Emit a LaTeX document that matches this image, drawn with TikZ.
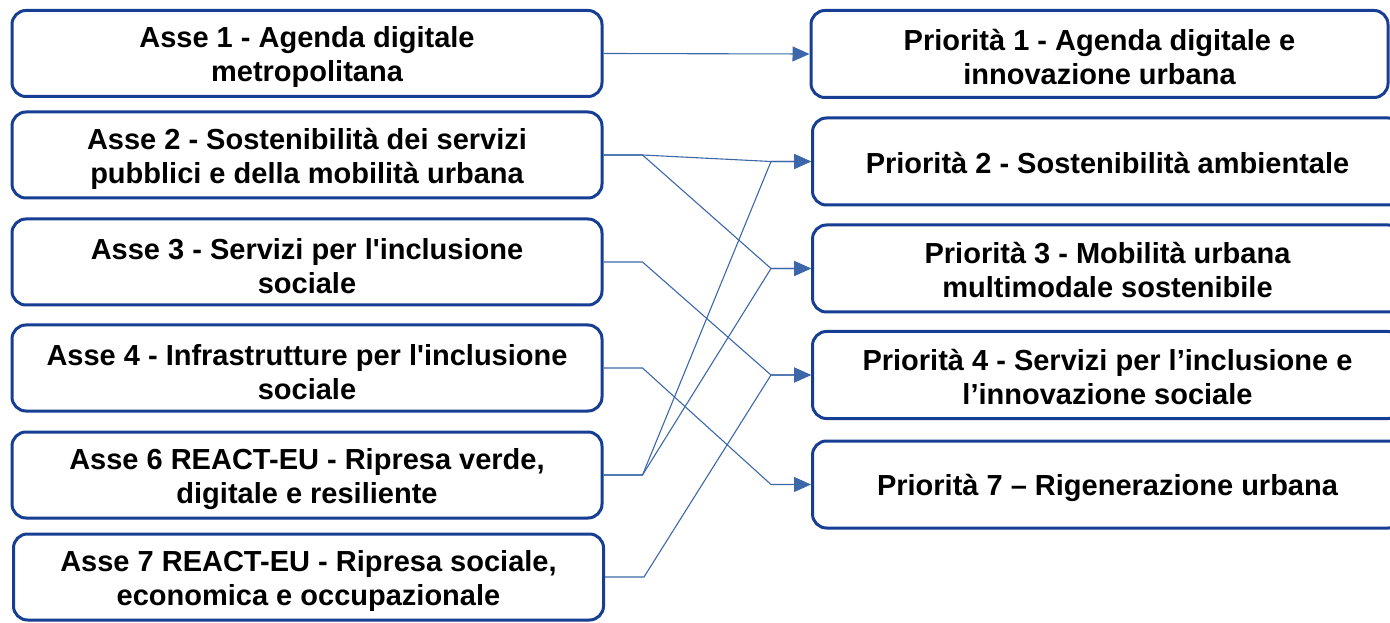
\documentclass[tikz,border=0pt]{standalone}
\usepackage{fontspec}
\setmainfont{Liberation Sans}
\newfontfamily\lsans{Liberation Sans}
\usetikzlibrary{arrows.meta,calc}
\definecolor{boxblue}{RGB}{22,62,146}
\definecolor{linkblue}{RGB}{60,104,170}
\tikzset{
  box/.style={draw=boxblue,line width=3pt,rounded corners=14pt,fill=white,inner sep=0pt},
  lbox/.style={box,minimum width=590pt,minimum height=86pt},
  rbox/.style={box,minimum width=590pt,minimum height=87pt},
  txt/.style={align=center,inner sep=0pt,
    font=\lsans\fontsize{29}{34}\selectfont\bfseries,text=black},
  link/.style={draw=linkblue,line width=1.1pt,-{Triangle[length=17pt,width=15pt]}},
}
\begin{document}
\begin{tikzpicture}[x=1pt,y=1pt]
\useasboundingbox (0,0) rectangle (1390,622);
\begin{scope}
\clip (0,0) rectangle (1390,622);
% left boxes (y = 622 - ypx)
\node[lbox] (a1) at (307,568.5) {};
\node[lbox] (a2) at (307,467) {};
\node[lbox] (a3) at (307,360) {};
\node[lbox] (a4) at (307,254) {};
\node[lbox] (a6) at (307,147) {};
\node[lbox] (a7) at (308.5,45) {};
% right boxes
\node[rbox,minimum width=577pt] (p1) at (1099.5,568) {};
\node[rbox,anchor=west] (p2) at (811,460.5) {};
\node[rbox,anchor=west] (p3) at (811,353.5) {};
\node[rbox,anchor=west] (p4) at (811,247) {};
\node[rbox,anchor=west] (p7) at (811,137.5) {};
\end{scope}
% texts
\node[txt] (ta1) at ($(a1.center)+(0,-4)$) {Asse 1 - Agenda digitale\\metropolitana};
\node[txt] (ta2) at ($(a2.center)+(0,-4)$) {Asse 2 - Sostenibilità dei servizi\\pubblici e della mobilità urbana};
\node[txt] (ta3) at ($(a3.center)+(0,-4)$) {Asse 3 - Servizi per l'inclusione\\sociale};
\node[txt] (ta4) at ($(a4.center)+(0,-4)$) {Asse 4 - Infrastrutture per l'inclusione\\sociale};
\node[txt] (ta6) at ($(a6.center)+(0,-4)$) {Asse 6 REACT-EU - Ripresa verde,\\digitale e resiliente};
\node[txt] (ta7) at ($(a7.center)+(0,-4)$) {Asse 7 REACT-EU - Ripresa sociale,\\economica e occupazionale};
\node[txt] (tp1) at ($(p1.center)+(0,-3)$) {Priorità 1 - Agenda digitale e\\innovazione urbana};
\node[txt] (tp2) at ($(p2.center)+(0,-2)$) {Priorità 2 - Sostenibilità ambientale};
\node[txt] (tp3) at ($(p3.center)+(0,-2)$) {Priorità 3 - Mobilità urbana\\multimodale sostenibile};
\node[txt] (tp4) at ($(p4.center)+(0,-2)$) {Priorità 4 - Servizi per l’inclusione e\\l’innovazione sociale};
\node[txt] (tp7) at ($(p7.center)+(0,-3)$) {Priorità 7 – Rigenerazione urbana};
% connectors
\draw[link] (a1.east) -- (p1.west);
\draw[link] (a2.east) -- ++(39,0) -- ($(p2.west)+(-40,0)$) -- (p2.west);
\draw[link] (a2.east) -- ++(39,0) -- ($(p3.west)+(-40,0)$) -- (p3.west);
\draw[link] (a3.east) -- ++(39,0) -- ($(p4.west)+(-40,0)$) -- (p4.west);
\draw[link] (a4.east) -- ++(39,0) -- ($(p7.west)+(-40,0)$) -- (p7.west);
\draw[link] (a6.east) -- ++(39,0) -- ($(p2.west)+(-40,0)$) -- (p2.west);
\draw[link] (a6.east) -- ++(39,0) -- ($(p3.west)+(-40,0)$) -- (p3.west);
\draw[link] (a7.east) -- ++(39,0) -- ($(p4.west)+(-40,0)$) -- (p4.west);
\end{tikzpicture}
\end{document}
